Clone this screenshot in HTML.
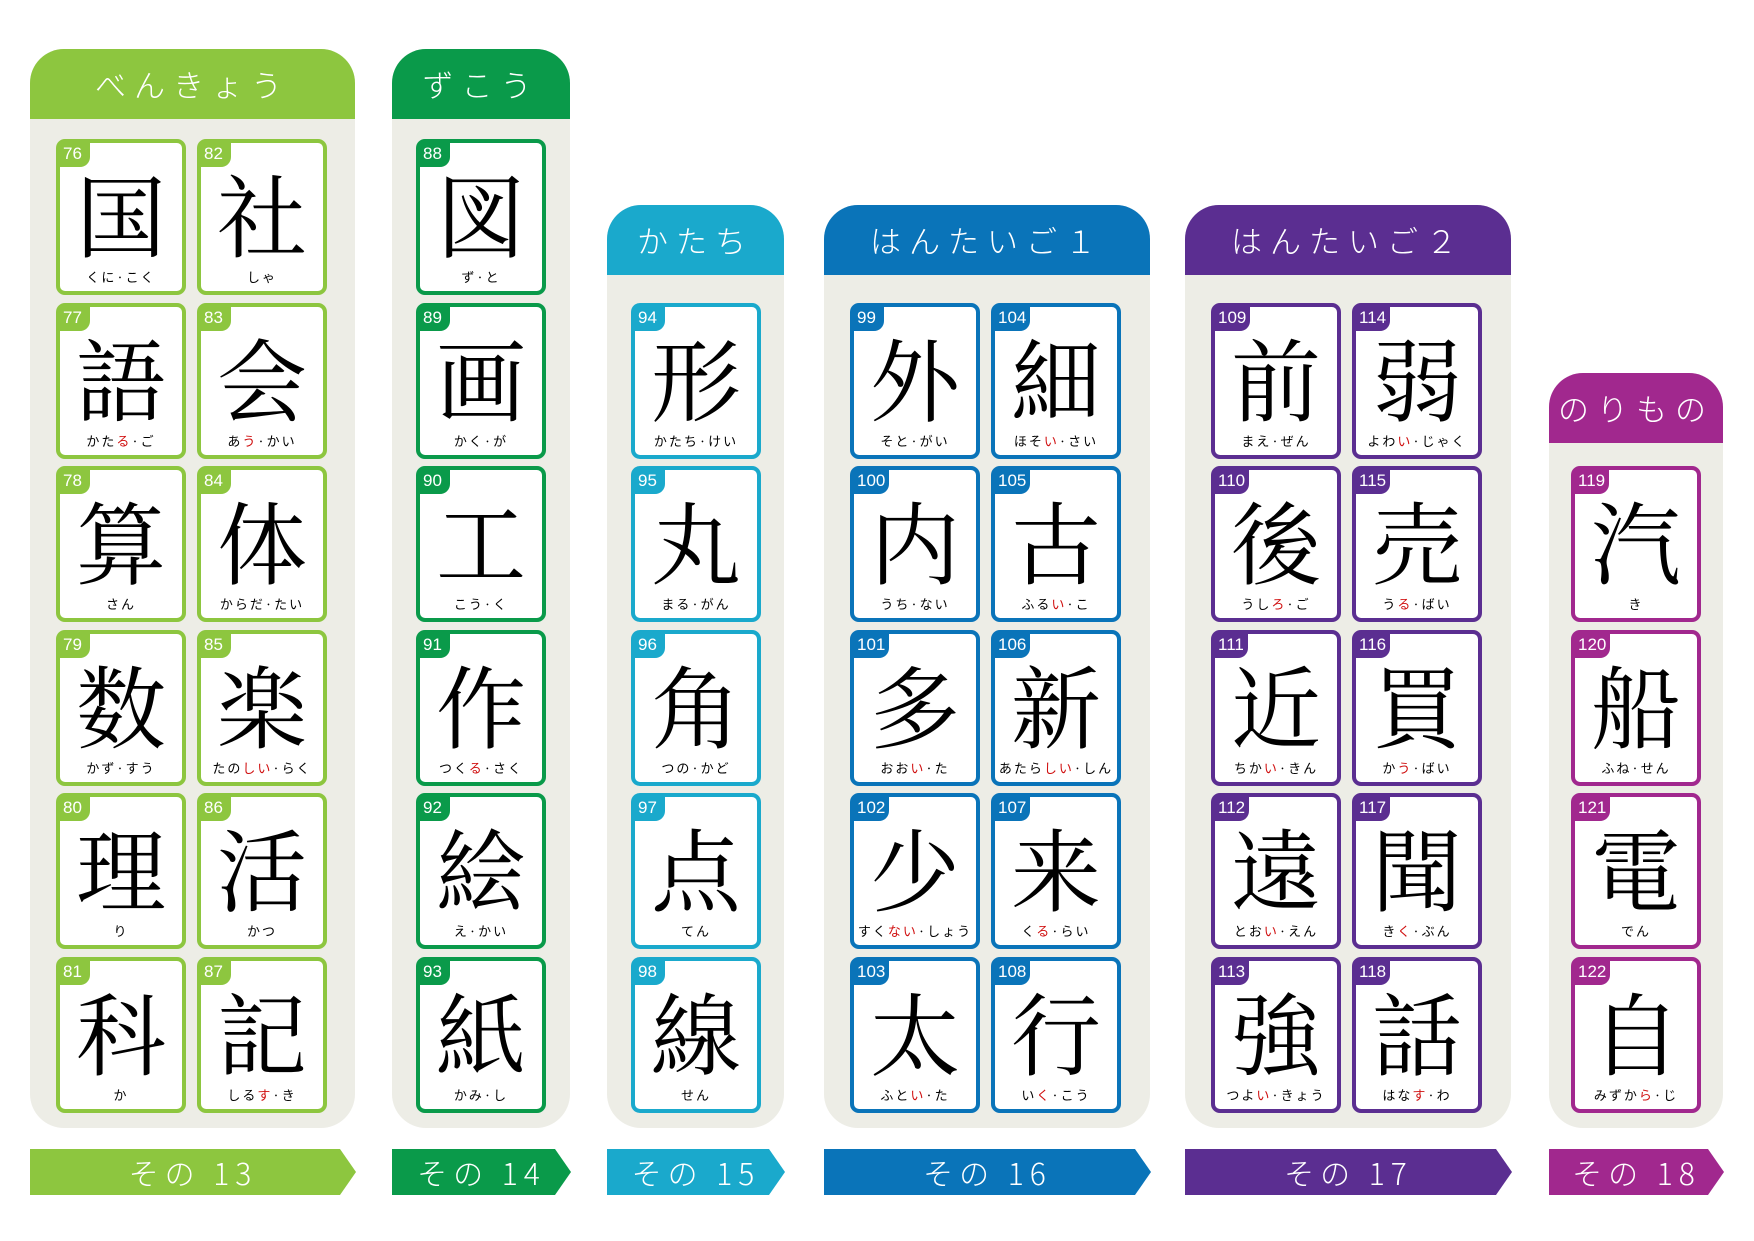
<!DOCTYPE html>
<html><head><meta charset="utf-8"><style>
body{margin:0;width:1754px;height:1241px;background:#fff;position:relative;overflow:hidden;font-family:"Liberation Sans","Noto Sans CJK JP",sans-serif}
.panel{position:absolute;background:#edede6;border-radius:34px 34px 34px 34px}
.hdr{position:absolute;left:0;right:0;top:0;height:70px;border-radius:34px 34px 0 0;color:#fff;font-size:31px;text-align:center;line-height:70px;letter-spacing:8px;font-family:"Noto Sans CJK JP",sans-serif;font-weight:300}
.card{position:absolute;width:122px;height:148px;border:4px solid;border-radius:9px;background:#fff}
.num{position:absolute;left:-1px;top:-1px;min-width:31px;height:25px;border-radius:0 0 10px 0;color:#fff;font-size:17px;line-height:24px;padding:0 4px 0 4px;box-sizing:border-box;letter-spacing:0px;font-family:"Liberation Sans Narrow","Liberation Sans",sans-serif}
.kj{position:absolute;left:0;right:0;top:18px;text-align:center;font-size:90px;line-height:100px;font-family:"Noto Serif CJK SC","Noto Serif CJK JP",serif;color:#000}
.rd{position:absolute;left:0;right:0;top:124px;text-align:center;font-size:13px;letter-spacing:2px;font-family:"Noto Sans CJK JP",sans-serif;color:#000}
.rd b{color:#d01010;font-weight:normal}
.ban{position:absolute;height:46px;color:#fff;font-size:30px;text-align:center;line-height:46px;letter-spacing:6px;font-family:"Noto Sans CJK JP",sans-serif;font-weight:300}
</style></head><body>
<script>
const groups=[
 {c:'#8dc63f',x:30,w:325,top:49,row0:0,t:'べんきょう',b:'その 13',cards:[['76','国','くに·こく'],['77','語','かた<b>る</b>·ご'],['78','算','さん'],['79','数','かず·すう'],['80','理','り'],['81','科','か'],['82','社','しゃ'],['83','会','あ<b>う</b>·かい'],['84','体','からだ·たい'],['85','楽','たの<b>しい</b>·らく'],['86','活','かつ'],['87','記','しる<b>す</b>·き']]},
 {c:'#0a9a4a',x:392,w:178,top:49,row0:0,t:'ずこう',b:'その 14',cards:[['88','図','ず·と'],['89','画','かく·が'],['90','工','こう·く'],['91','作','つく<b>る</b>·さく'],['92','絵','え·かい'],['93','紙','かみ·し']]},
 {c:'#1aa9cc',x:607,w:177,top:205,row0:1,t:'かたち',b:'その 15',cards:[['94','形','かたち·けい'],['95','丸','まる·がん'],['96','角','つの·かど'],['97','点','てん'],['98','線','せん']]},
 {c:'#0a74b9',x:824,w:326,top:205,row0:1,t:'はんたいご１',b:'その 16',cards:[['99','外','そと·がい'],['100','内','うち·ない'],['101','多','おお<b>い</b>·た'],['102','少','すく<b>ない</b>·しょう'],['103','太','ふと<b>い</b>·た'],['104','細','ほそ<b>い</b>·さい'],['105','古','ふる<b>い</b>·こ'],['106','新','あたら<b>しい</b>·しん'],['107','来','く<b>る</b>·らい'],['108','行','い<b>く</b>·こう']]},
 {c:'#5b2e91',x:1185,w:326,top:205,row0:1,t:'はんたいご２',b:'その 17',cards:[['109','前','まえ·ぜん'],['110','後','うし<b>ろ</b>·ご'],['111','近','ちか<b>い</b>·きん'],['112','遠','とお<b>い</b>·えん'],['113','強','つよ<b>い</b>·きょう'],['114','弱','よわ<b>い</b>·じゃく'],['115','売','う<b>る</b>·ばい'],['116','買','か<b>う</b>·ばい'],['117','聞','き<b>く</b>·ぶん'],['118','話','はな<b>す</b>·わ']]},
 {c:'#a1288e',x:1549,w:174,top:373,row0:2,t:'のりもの',b:'その 18',cards:[['119','汽','き'],['120','船','ふね·せん'],['121','電','でん'],['122','自','みずか<b>ら</b>·じ']]}
];
let h='';
groups.forEach((g,gi)=>{
 h+=`<div class="panel" style="left:${g.x}px;top:${g.top}px;width:${g.w}px;height:${1128-g.top}px"><div class="hdr" style="background:${g.c}">${g.t}</div></div>`;
 const two=g.w>250, per=two?g.cards.length/2:g.cards.length;
 g.cards.forEach((cd,i)=>{
  const col=two?Math.floor(i/per):0,row=g.row0+(two?i%per:i);
  const cx=two?g.x+26+col*141:g.x+Math.round((g.w-130)/2);
  const cy=139+row*163.5;
  h+=`<div class="card" style="left:${cx}px;top:${cy}px;border-color:${g.c}"><div class="num" style="background:${g.c}">${cd[0]}</div><div class="kj">${cd[1]}</div><div class="rd">${cd[2]}</div></div>`;
 });
 h+=`<div class="ban" style="left:${g.x}px;top:1149px;width:${g.w+1}px;background:${g.c};clip-path:polygon(0 0,calc(100% - 16px) 0,100% 50%,calc(100% - 16px) 100%,0 100%)">${g.b}</div>`;
});
document.body.insertAdjacentHTML('beforeend',h);
</script>
</body></html>
